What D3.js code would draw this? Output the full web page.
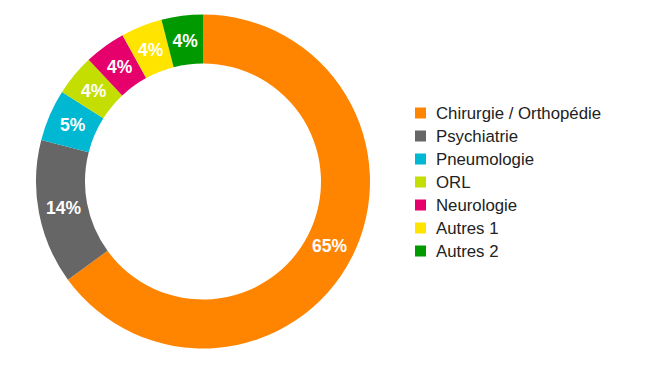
<!DOCTYPE html>
<html>
<head>
<meta charset="utf-8">
<script src="https://cdn.jsdelivr.net/npm/d3@7"></script>
<style>
  html, body { margin: 0; padding: 0; background: #fff; }
  svg { display: block; }
</style>
</head>
<body>
<svg id="chart" width="650" height="366"></svg>
<script>
const categories = ["Chirurgie / Orthopédie", "Psychiatrie", "Pneumologie", "ORL", "Neurologie", "Autres 1", "Autres 2"];
const values = [65, 14, 5, 4, 4, 4, 4];
const colors = ["#FF8500", "#666666", "#00B8D2", "#C3DE00", "#E6006B", "#FFE400", "#009A00"];

const svg = d3.select("#chart");
const cx = 203, cy = 181.5, outerR = 167, innerR = 118;

const data = categories.map((c, i) => ({ name: c, value: values[i], color: colors[i] }));
const pie = d3.pie().value(d => d.value).sort(null);
const arc = d3.arc().innerRadius(innerR).outerRadius(outerR);
const labelArc = d3.arc().innerRadius(142).outerRadius(142);

const g = svg.append("g").attr("transform", `translate(${cx},${cy})`);
const arcs = pie(data);

g.selectAll("path").data(arcs).enter().append("path")
  .attr("d", arc)
  .attr("fill", d => d.data.color);

g.selectAll("text.lbl").data(arcs).enter().append("text")
  .attr("class", "lbl")
  .attr("transform", d => `translate(${labelArc.centroid(d)})`)
  .attr("text-anchor", "middle")
  .attr("dy", "0.36em")
  .attr("fill", "#fff")
  .attr("font-family", "'Liberation Sans', Arial, sans-serif")
  .attr("font-weight", "bold")
  .attr("font-size", 17.5)
  .text(d => d.data.value + "%");

const legend = svg.append("g").attr("transform", "translate(415,113)");
const rowH = 23;
const item = legend.selectAll("g").data(data).enter().append("g")
  .attr("transform", (d, i) => `translate(0,${i * rowH})`);
item.append("rect")
  .attr("x", 0).attr("y", -5.5).attr("width", 11).attr("height", 11)
  .attr("fill", d => d.color);
item.append("text")
  .attr("x", 21).attr("y", 0).attr("dy", "0.36em")
  .attr("fill", "#222")
  .attr("font-family", "'Liberation Sans', Arial, sans-serif")
  .attr("font-size", 16.8)
  .text(d => d.name);
</script>
</body>
</html>
